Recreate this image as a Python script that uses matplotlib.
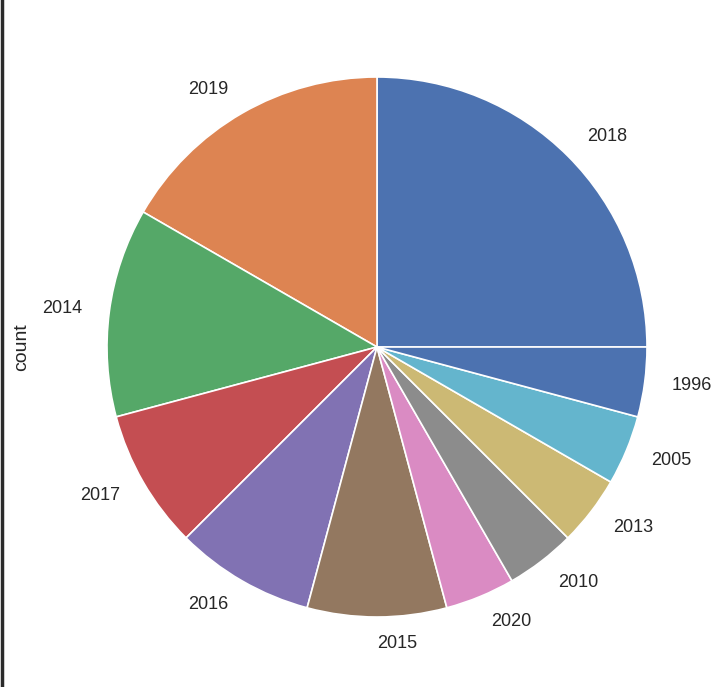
import matplotlib
matplotlib.use("Agg")
import matplotlib.pyplot as plt
from matplotlib.lines import Line2D

years = ["2018", "2019", "2014", "2017", "2016", "2015", "2020", "2010", "2013", "2005", "1996"]
counts = [6, 4, 3, 2, 2, 2, 1, 1, 1, 1, 1]
palette = ["#4C72B0", "#DD8452", "#55A868", "#C44E52", "#8172B3",
           "#937860", "#DA8BC3", "#8C8C8C", "#CCB974", "#64B5CD"]
colors = [palette[i % len(palette)] for i in range(len(years))]

plt.rcParams['font.family'] = ['Liberation Sans', 'DejaVu Sans']

W, H = 723, 687
fig = plt.figure(figsize=(W / 100, H / 100), dpi=100)
fig.patch.set_facecolor("white")

cx, cy, r = 377, 347, 270
ax = fig.add_axes([(cx - r) / W, (H - cy - r) / H, 2 * r / W, 2 * r / H])
wedges, texts = ax.pie(counts, labels=years, colors=colors, startangle=0,
                       counterclock=True, labeldistance=1.1,
                       wedgeprops=dict(edgecolor="white", linewidth=1.2),
                       textprops=dict(fontsize=13, color="#262626"))
ax.set_xlim(-1, 1)
ax.set_ylim(-1, 1)
ax.set_aspect("equal")
ax.axis("off")
for t in texts:
    t.set_clip_on(False)

fig.text(22 / W, 1 - cy / H, "count", rotation=90, ha="center", va="center",
         fontsize=14, color="#262626")

# left dark border of the screenshot
fig.add_artist(Line2D([1.5 / W, 1.5 / W], [0, 1], transform=fig.transFigure,
                      color="#2a2a2a", linewidth=2.5))

fig.savefig("out.png", dpi=100)
